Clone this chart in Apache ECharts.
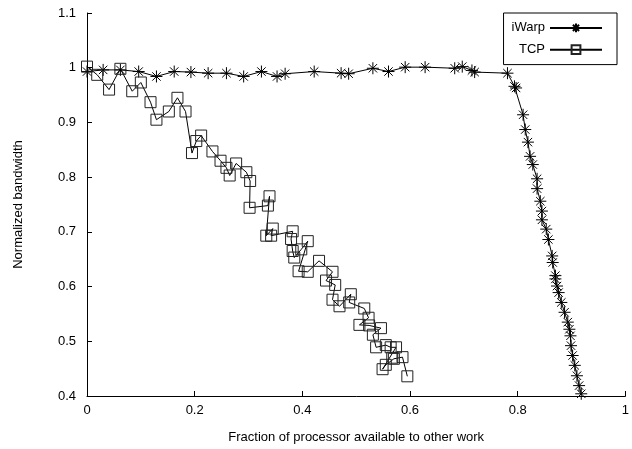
<!DOCTYPE html>
<html><head><meta charset="utf-8">
<script src="https://cdn.jsdelivr.net/npm/echarts@6/dist/echarts.min.js"></script>
<style>html,body{margin:0;padding:0;background:#fff}#c{width:632px;height:449px}</style>
</head><body><div id="c"></div>
<script>
var iwarpX = [0.000,0.030,0.062,0.096,0.129,0.162,0.193,0.225,0.259,0.291,0.324,0.353,0.368,0.422,0.472,0.486,0.531,0.560,0.591,0.628,0.683,0.697,0.715,0.720,0.781,0.794,0.797,0.810,0.814,0.819,0.823,0.828,0.836,0.836,0.842,0.845,0.845,0.853,0.857,0.864,0.865,0.870,0.870,0.873,0.876,0.881,0.887,0.893,0.896,0.898,0.899,0.902,0.906,0.910,0.914,0.918];
var iwarpY = [0.993,0.996,0.996,0.993,0.984,0.993,0.992,0.990,0.990,0.984,0.993,0.984,0.989,0.993,0.990,0.989,0.999,0.993,1.001,1.001,0.999,1.002,0.995,0.992,0.990,0.966,0.963,0.914,0.887,0.864,0.838,0.823,0.797,0.779,0.756,0.738,0.722,0.705,0.686,0.656,0.644,0.620,0.614,0.601,0.589,0.571,0.553,0.535,0.522,0.510,0.492,0.474,0.456,0.437,0.419,0.404];
var tcpX = [0.000,0.019,0.041,0.062,0.084,0.100,0.118,0.129,0.152,0.168,0.183,0.195,0.203,0.212,0.233,0.248,0.259,0.265,0.277,0.296,0.303,0.302,0.336,0.339,0.333,0.345,0.342,0.382,0.379,0.382,0.385,0.398,0.410,0.393,0.410,0.431,0.456,0.444,0.461,0.456,0.469,0.490,0.487,0.515,0.523,0.506,0.524,0.546,0.531,0.537,0.555,0.564,0.574,0.549,0.555,0.570,0.567,0.586,0.595];
var tcpY = [1.002,0.987,0.960,0.998,0.957,0.973,0.937,0.905,0.920,0.945,0.920,0.844,0.866,0.876,0.847,0.830,0.817,0.803,0.825,0.809,0.793,0.744,0.748,0.765,0.693,0.706,0.693,0.701,0.687,0.665,0.653,0.668,0.683,0.628,0.627,0.647,0.627,0.611,0.603,0.576,0.564,0.586,0.571,0.560,0.543,0.530,0.529,0.524,0.512,0.489,0.493,0.489,0.489,0.449,0.457,0.468,0.470,0.471,0.436];

function zip(a,b){return a.map(function(v,i){return [v,b[i]];});}
var star = 'path://M0,5L10,5M5,0L5,10M1.5,1.5L8.5,8.5M8.5,1.5L1.5,8.5';
var font = 'Liberation Sans';
var chart = echarts.init(document.getElementById('c'));
chart.setOption({
  animation:false,
  backgroundColor:'#fff',
  textStyle:{fontFamily:font},
  grid:{left:87,top:13,width:540,height:384,containLabel:false},
  legend:{
    right:15, top:13, orient:'vertical', align:'right',
    itemWidth:52, itemHeight:11, itemGap:8,
    borderColor:'#000', borderWidth:1, padding:[8,14,8,8],
    textStyle:{fontFamily:font,fontSize:13,color:'#000'},
    data:['iWarp','TCP']
  },
  xAxis:{
    type:'value', min:0, max:1, interval:0.2,
    name:'Fraction of processor available to other work', nameLocation:'middle', nameGap:35,
    nameTextStyle:{fontFamily:font,fontSize:13,color:'#000'},
    axisLine:{lineStyle:{color:'#000',width:1}},
    axisTick:{inside:true,length:5,lineStyle:{color:'#000'}},
    axisLabel:{fontFamily:font,fontSize:13,color:'#000',margin:8},
    splitLine:{show:false}
  },
  yAxis:{
    type:'value', min:0.4, max:1.1, interval:0.1,
    name:'Normalized bandwidth', nameLocation:'middle', nameGap:62, nameRotate:90,
    nameTextStyle:{fontFamily:font,fontSize:13,color:'#000'},
    axisLine:{show:true,lineStyle:{color:'#000',width:1}},
    axisTick:{show:true,inside:true,length:5,lineStyle:{color:'#000'}},
    axisLabel:{fontFamily:font,fontSize:13,color:'#000',margin:11,
      formatter:function(v){return String(Math.round(v*10)/10);}},
    splitLine:{show:false}
  },
  series:[
    {name:'iWarp',type:'line',data:zip(iwarpX,iwarpY),symbol:star,symbolSize:12,showAllSymbol:true,
     lineStyle:{color:'#000',width:1},itemStyle:{color:'none',borderColor:'#000',borderWidth:1}},
    {name:'TCP',type:'line',data:zip(tcpX,tcpY),symbol:'rect',symbolSize:11,showAllSymbol:true,
     lineStyle:{color:'#000',width:1},itemStyle:{color:'none',borderColor:'#222',borderWidth:1}}
  ]
});
</script></body></html>
